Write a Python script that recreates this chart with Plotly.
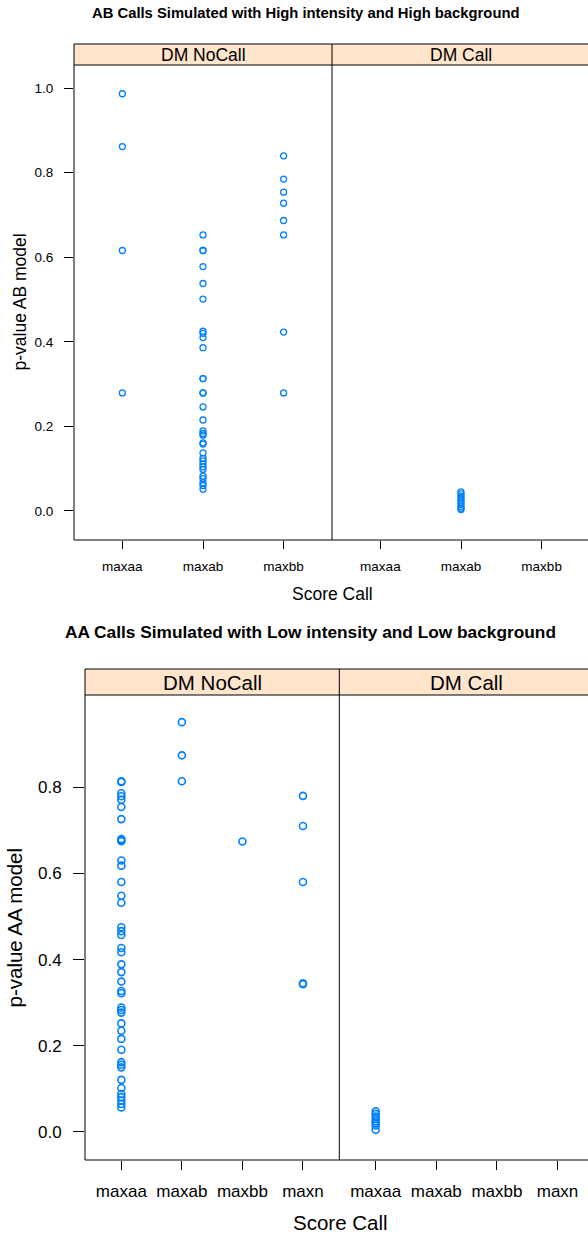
import plotly.graph_objects as go

W, H = 588, 1236
FONT = "Liberation Sans, Arial, Helvetica, sans-serif"
BLUE = "#0080ff"
STRIP = "#ffe5cc"

# ---------------- data ----------------
top_title = "AB Calls Simulated with High intensity and High background"
bot_title = "AA Calls Simulated with Low intensity and Low background"
panels = ["DM NoCall", "DM Call"]
top_cats = ["maxaa", "maxab", "maxbb"]
bot_cats = ["maxaa", "maxab", "maxbb", "maxn"]

ab_nocall_maxaa = [0.987, 0.862, 0.616, 0.279]
ab_nocall_maxab = [0.653, 0.616, 0.616, 0.578, 0.538, 0.501, 0.425, 0.420, 0.410, 0.386,
                   0.313, 0.313, 0.279, 0.279, 0.246, 0.215, 0.189, 0.183, 0.179, 0.161,
                   0.158, 0.137, 0.124, 0.118, 0.111, 0.104, 0.098, 0.082, 0.076, 0.066,
                   0.060, 0.051]
ab_nocall_maxbb = [0.840, 0.785, 0.754, 0.728, 0.687, 0.653, 0.423, 0.279]
ab_call_maxab = [0.045, 0.040, 0.035, 0.030, 0.025, 0.020, 0.015, 0.010, 0.006, 0.003]

aa_nocall_maxaa = [0.814, 0.812, 0.786, 0.779, 0.771, 0.754, 0.726, 0.680, 0.677, 0.675,
                   0.630, 0.618, 0.580, 0.548, 0.532, 0.475, 0.466, 0.457, 0.427, 0.417,
                   0.389, 0.371, 0.349, 0.327, 0.322, 0.289, 0.283, 0.277, 0.252, 0.235,
                   0.216, 0.191, 0.162, 0.156, 0.150, 0.121, 0.102, 0.088, 0.081, 0.073,
                   0.065, 0.057]
aa_nocall_maxab = [0.951, 0.874, 0.814]
aa_nocall_maxbb = [0.674]
aa_nocall_maxn = [0.780, 0.710, 0.580, 0.345, 0.343]
aa_call_maxaa = [0.048, 0.042, 0.036, 0.030, 0.025, 0.020, 0.015, 0.005]

top_yticks = [0.0, 0.2, 0.4, 0.6, 0.8, 1.0]
bot_yticks = [0.0, 0.2, 0.4, 0.6, 0.8]


def px(x):
    return x / W


def py(y):
    return 1 - y / H


fig = go.Figure()


def add_pts(cat, vals, xa, ya, size, lw):
    fig.add_trace(go.Scatter(
        x=[cat] * len(vals), y=vals, xaxis=xa, yaxis=ya, mode="markers",
        marker=dict(symbol="circle-open", size=size, color=BLUE,
                    line=dict(color=BLUE, width=lw)),
        showlegend=False, hoverinfo="y"))


add_pts("maxaa", ab_nocall_maxaa, "x", "y", 6, 1.3)
add_pts("maxab", ab_nocall_maxab, "x", "y", 6, 1.3)
add_pts("maxbb", ab_nocall_maxbb, "x", "y", 6, 1.3)
add_pts("maxab", ab_call_maxab, "x2", "y2", 6, 1.3)

add_pts("maxaa", aa_nocall_maxaa, "x3", "y3", 7, 1.6)
add_pts("maxab", aa_nocall_maxab, "x3", "y3", 7, 1.6)
add_pts("maxbb", aa_nocall_maxbb, "x3", "y3", 7, 1.6)
add_pts("maxn", aa_nocall_maxn, "x3", "y3", 7, 1.6)
add_pts("maxaa", aa_call_maxaa, "x4", "y4", 7, 1.6)

# geometry (pixels)
T_L, T_M, T_R = 74, 332, 590
T_STRIP_TOP, T_TOP, T_BOT = 44, 65, 540
B_L, B_M, B_R = 85, 339.3, 593.9
B_STRIP_TOP, B_TOP, B_BOT = 669, 695, 1160


def xax(dom, cats, rng, fs, tl, stand):
    return dict(domain=[px(dom[0]), px(dom[1])], type="category",
                categoryorder="array", categoryarray=cats, range=rng,
                showgrid=False, zeroline=False, showline=False,
                ticks="outside", ticklen=tl, tickwidth=1, tickcolor="black",
                tickfont=dict(family=FONT, size=fs, color="black"),
                ticklabelstandoff=stand, fixedrange=True)


def yax(dom, rng, tv, fs, tl, stand, show=True, anchor=None):
    d = dict(domain=[py(dom[1]), py(dom[0])], range=rng, showgrid=False,
             zeroline=False, showline=False, fixedrange=True)
    if show:
        d.update(tickvals=tv, ticktext=["%.1f" % v for v in tv], ticks="outside",
                 ticklen=tl, tickwidth=1, tickcolor="black",
                 tickfont=dict(family=FONT, size=fs, color="black"),
                 ticklabelstandoff=stand)
    else:
        d.update(showticklabels=False, ticks="")
    if anchor:
        d["anchor"] = anchor
    return d


top_rng_y = [-0.069, 1.055]
bot_rng_y = [-0.065, 1.014]

layout = dict(
    width=W, height=H, margin=dict(l=0, r=0, t=0, b=0),
    paper_bgcolor="white", plot_bgcolor="white",
    xaxis=xax((T_L, T_M), top_cats, [-0.6, 2.6], 13.5, 8, 6),
    xaxis2=xax((T_M, 588), top_cats, [-0.6, -0.6 + 3.2 * (588 - T_M) / (T_R - T_M)], 13.5, 8, 6),
    xaxis3=xax((B_L, B_M), bot_cats, [-0.6, 3.6], 17, 9, 7),
    xaxis4=xax((B_M, 588), bot_cats, [-0.6, -0.6 + 4.2 * (588 - B_M) / (B_R - B_M)], 17, 9, 7),
    yaxis=yax((T_TOP, T_BOT), top_rng_y, top_yticks, 13.5, 9, 8, anchor="x"),
    yaxis2=yax((T_TOP, T_BOT), top_rng_y, top_yticks, 13.5, 9, 8, show=False, anchor="x2"),
    yaxis3=yax((B_TOP, B_BOT), bot_rng_y, bot_yticks, 17, 11, 8, anchor="x3"),
    yaxis4=yax((B_TOP, B_BOT), bot_rng_y, bot_yticks, 17, 11, 8, show=False, anchor="x4"),
)
layout["xaxis"]["anchor"] = "y"
layout["xaxis2"]["anchor"] = "y2"
layout["xaxis3"]["anchor"] = "y3"
layout["xaxis4"]["anchor"] = "y4"
fig.update_layout(**layout)

shapes = []
ln = dict(color="black", width=1)


def seg(x0, y0, x1, y1):
    shapes.append(dict(type="line", xref="paper", yref="paper",
                       x0=px(x0), y0=py(y0), x1=px(x1), y1=py(y1), line=ln))


for (L, M, R, st, tp, bt) in [(T_L, T_M, T_R, T_STRIP_TOP, T_TOP, T_BOT),
                              (B_L, B_M, B_R, B_STRIP_TOP, B_TOP, B_BOT)]:
    shapes.append(dict(type="rect", xref="paper", yref="paper",
                       x0=px(L), x1=1.01, y0=py(tp), y1=py(st),
                       fillcolor=STRIP, line=dict(width=0), layer="below"))
    seg(L, st, 590, st)
    seg(L, tp, 590, tp)
    seg(L, st, L, bt)
    seg(M, st, M, bt)
    seg(L, bt, 590, bt)

fig.update_layout(shapes=shapes)

ann = []


def text(x, y, s, size, bold=False, angle=0):
    ann.append(dict(xref="paper", yref="paper", x=px(x), y=py(y), text=("<b>%s</b>" % s) if bold else s,
                    showarrow=False, xanchor="center", yanchor="middle", textangle=angle,
                    font=dict(family=FONT, size=size, color="black")))


text(306, 13, top_title, 14.8, bold=True)
text((T_L + T_M) / 2, (T_STRIP_TOP + T_TOP) / 2 + 0.5, panels[0], 17.5)
text((T_M + T_R) / 2, (T_STRIP_TOP + T_TOP) / 2 + 0.5, panels[1], 17.5)
text(332, 594, "Score Call", 17.5)
text(19, (T_TOP + T_BOT) / 2, "p-value AB model", 17.5, angle=-90)

text(310, 632, bot_title, 17.3, bold=True)
text((B_L + B_M) / 2, (B_STRIP_TOP + B_TOP) / 2 + 0.5, panels[0], 20.5)
text((B_M + B_R) / 2, (B_STRIP_TOP + B_TOP) / 2 + 0.5, panels[1], 20.5)
text(340, 1222, "Score Call", 20.5)
text(14, (B_TOP + B_BOT) / 2, "p-value AA model", 20.5, angle=-90)

fig.update_layout(annotations=ann)

fig.write_html("out.html")
